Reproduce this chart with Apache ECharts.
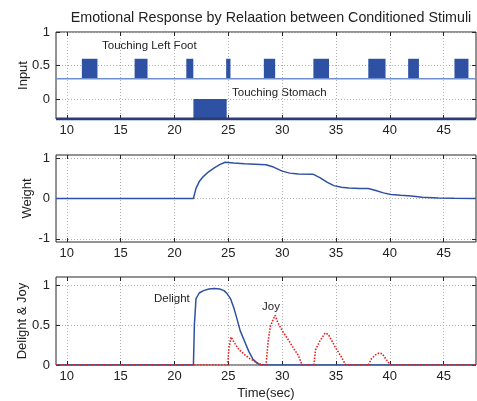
<!DOCTYPE html>
<html><head><meta charset="utf-8">
<script src="https://cdn.jsdelivr.net/npm/echarts@6/dist/echarts.min.js"></script>
<style>html,body{margin:0;padding:0;background:#fff}#c{width:477px;height:401px}</style>
</head><body><div id="c"></div>
<script>
// ---- data ----
const xTicks = [10, 15, 20, 25, 30, 35, 40, 45];
const inputTicks = [0, 0.5, 1];
const weightTicks = [-1, 0, 1];
const djTicks = [0, 0.5, 1];

const footStart = [11.4, 16.3, 21.1, 24.8, 28.3, 32.9, 38.0, 41.7, 46.0];
const footEnd   = [12.85, 17.5, 21.75, 25.2, 29.35, 34.35, 39.6, 42.7, 47.3];
const footBase = 0.3, footHigh = 0.6;
const stomachStart = [21.76], stomachEnd = [24.85];
const stomachBase = -0.3, stomachHigh = 0;

const weightT = [9, 21.76, 22.0, 22.3, 22.7, 23.2, 23.7, 24.2, 24.7, 25.5, 26.5, 27.5, 28.5, 29.2, 30.0, 30.7, 31.5, 32.9, 33.5, 34.2, 34.8, 35.5, 36.2, 37.2, 38.0, 38.7, 39.4, 40.1, 41.0, 42.0, 43.0, 44.5, 46, 48];
const weightV = [0, 0, 0.25, 0.42, 0.55, 0.67, 0.76, 0.84, 0.9, 0.88, 0.86, 0.85, 0.84, 0.78, 0.68, 0.63, 0.61, 0.6, 0.52, 0.4, 0.32, 0.28, 0.26, 0.25, 0.25, 0.2, 0.14, 0.1, 0.08, 0.06, 0.03, 0.015, 0.005, 0];

const delightT = [9, 21.76, 21.85, 22.0, 22.3, 22.7, 23.2, 23.7, 24.2, 24.6, 24.9, 25.2, 25.5, 25.8, 26.1, 26.5, 26.9, 27.3, 27.7, 28.0, 48];
const delightV = [0, 0, 0.5, 0.83, 0.9, 0.93, 0.95, 0.955, 0.95, 0.93, 0.89, 0.83, 0.72, 0.58, 0.43, 0.3, 0.17, 0.07, 0.02, 0, 0];

const joyT = [9, 24.94, 25.05, 25.25, 25.6, 26.0, 26.5, 27.0, 27.5, 28.0, 28.5, 28.7, 28.9, 29.1, 29.35, 29.6, 30.0, 30.6, 31.1, 31.5, 31.85, 32.95, 33.1, 33.5, 34.0, 34.3, 34.9, 35.5, 35.9, 38.0, 38.3, 38.7, 39.0, 39.3, 39.6, 40.05, 48];
const joyV = [0, 0, 0.2, 0.35, 0.27, 0.19, 0.13, 0.08, 0.04, 0.01, 0, 0.3, 0.48, 0.55, 0.62, 0.53, 0.43, 0.31, 0.2, 0.12, 0, 0, 0.19, 0.3, 0.4, 0.38, 0.23, 0.1, 0, 0, 0.08, 0.13, 0.15, 0.14, 0.08, 0, 0];

// ---- chart ----
const FONT = 'Liberation Sans, Arial, Helvetica, sans-serif';
const AX = '#262626';
const BLUE = '#2f51a3';
const zip = (a, b) => a.map((v, i) => [v, b[i]]);

const grids = [
  {left: 56, right: 1, top: 32, height: 87},
  {left: 56, right: 1, top: 155, height: 87},
  {left: 56, right: 1, top: 277, height: 88}
].map(g => Object.assign(g, {show: true, borderColor: AX, borderWidth: 1, backgroundColor: '#fff'}));

function xAx(i, pos, labels, name) {
  return {
    type: 'value', gridIndex: i, position: pos, min: 9, max: 48,
    axisLine: {show: false, onZero: false},
    axisTick: {show: true, inside: true, length: 4, customValues: xTicks, lineStyle: {color: AX}},
    axisLabel: {show: labels, customValues: xTicks, color: '#222', fontSize: 13, fontFamily: FONT, margin: 5},
    splitLine: {show: pos === 'bottom', lineStyle: {color: '#b0b0b0', type: [1, 2], width: 1}},
    name: name || '', nameLocation: 'middle', nameGap: 22, nameMoveOverlap: false,
    nameTextStyle: {color: '#222', fontSize: 13, fontFamily: FONT}
  };
}
function yAx(i, pos, min, max, ticks, labels, name, gap) {
  return {
    type: 'value', gridIndex: i, position: pos, min: min, max: max,
    axisLine: {show: false, onZero: false},
    axisTick: {show: true, inside: true, length: 4, customValues: ticks, lineStyle: {color: AX}},
    axisLabel: {show: labels, customValues: ticks, color: '#222', fontSize: 13, fontFamily: FONT, margin: 6},
    splitLine: {show: pos === 'left', lineStyle: {color: '#b0b0b0', type: [1, 2], width: 1}},
    name: name || '', nameLocation: 'middle', nameGap: gap || 30, nameMoveOverlap: false,
    nameTextStyle: {color: '#222', fontSize: 13, fontFamily: FONT}
  };
}

const xAxis = [
  xAx(0, 'bottom', true), xAx(1, 'bottom', true), xAx(2, 'bottom', true, 'Time(sec)'),
  xAx(0, 'top', false), xAx(1, 'top', false), xAx(2, 'top', false)
];
const yAxis = [
  yAx(0, 'left', -0.3, 1, inputTicks, true, 'Input', 26),
  yAx(1, 'left', -1.08, 1.08, weightTicks, true, 'Weight', 22),
  yAx(2, 'left', 0, 1.1, djTicks, true, 'Delight & Joy', 27),
  yAx(0, 'right', -0.3, 1, inputTicks, false),
  yAx(1, 'right', -1.08, 1.08, weightTicks, false),
  yAx(2, 'right', 0, 1.1, djTicks, false)
];

function rectItem(params, api) {
  const p0 = api.coord([api.value(0), api.value(3)]);
  const p1 = api.coord([api.value(1), api.value(2)]);
  return {type: 'rect', shape: {x: p0[0], y: p0[1], width: p1[0] - p0[0], height: p1[1] - p0[1]},
          style: {fill: BLUE}};
}

const footData = footStart.map((s, i) => [s, footEnd[i], footBase, footHigh]);
const stomachData = stomachStart.map((s, i) => [s, stomachEnd[i], stomachBase, stomachHigh]);

const lineBase = {type: 'line', showSymbol: false, symbol: 'none', silent: true, animation: false};

const series = [
  Object.assign({}, lineBase, {xAxisIndex: 0, yAxisIndex: 0, data: [[9, footBase], [48, footBase]],
    lineStyle: {color: '#6f8fd0', width: 1.5}}),
  Object.assign({}, lineBase, {xAxisIndex: 0, yAxisIndex: 0, data: [[9, stomachBase], [48, stomachBase]],
    lineStyle: {color: '#2a3d78', width: 3}, z: 5}),
  {type: 'custom', xAxisIndex: 0, yAxisIndex: 0, data: footData, renderItem: rectItem,
    encode: {x: [0, 1], y: [2, 3]}, animation: false, silent: true},
  {type: 'custom', xAxisIndex: 0, yAxisIndex: 0, data: stomachData, renderItem: rectItem,
    encode: {x: [0, 1], y: [2, 3]}, animation: false, silent: true},
  Object.assign({}, lineBase, {xAxisIndex: 1, yAxisIndex: 1, data: zip(weightT, weightV),
    lineStyle: {color: BLUE, width: 1.5}}),
  Object.assign({}, lineBase, {xAxisIndex: 2, yAxisIndex: 2, data: zip(joyT, joyV),
    lineStyle: {color: '#f01818', width: 1.6, type: [1.5, 1.5]}, z: 3}),
  Object.assign({}, lineBase, {xAxisIndex: 2, yAxisIndex: 2, data: zip(delightT, delightV),
    lineStyle: {color: BLUE, width: 1.5}, z: 2})
];

const txt = (x, y, s, size) => ({type: 'text', left: x, top: y - size * 0.6, silent: true,
  style: {text: s, fill: '#222', font: size + 'px ' + FONT}});

const chart = echarts.init(document.getElementById('c'), null, {renderer: 'canvas'});
chart.setOption({
  animation: false,
  backgroundColor: '#fff',
  title: {text: 'Emotional Response by Relaation between Conditioned Stimuli', left: 266, textAlign: 'center', top: 6,
    textStyle: {fontSize: 14.3, fontWeight: 'normal', color: '#222', fontFamily: FONT}},
  grid: grids, xAxis: xAxis, yAxis: yAxis, series: series,
  graphic: [
    txt(102, 47, 'Touching Left Foot', 11.5),
    txt(232, 94, 'Touching Stomach', 11.5),
    txt(154, 300, 'Delight', 11.5),
    txt(262, 308, 'Joy', 11.5)
  ]
});
</script></body></html>
